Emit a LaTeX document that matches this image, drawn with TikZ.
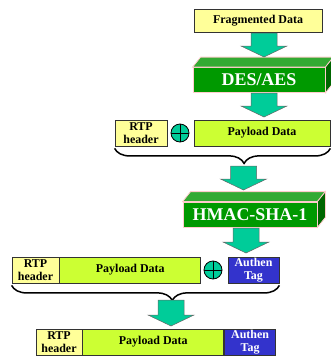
\documentclass[tikz,border=0pt]{standalone}
\usepackage{fontspec}
\setmainfont{Liberation Serif}
\usetikzlibrary{positioning,calc,decorations.pathreplacing}

\definecolor{hdryellow}{HTML}{FFFF99}
\definecolor{payloadlime}{HTML}{CCFF33}
\definecolor{arrowteal}{HTML}{00CC99}
\definecolor{algofront}{HTML}{009900}
\definecolor{algotop}{HTML}{33AA33}
\definecolor{algoside}{HTML}{006600}
\definecolor{tagblue}{HTML}{3333CC}
\definecolor{edgepink}{HTML}{FFCCCC}

\tikzset{
  field/.style={draw=black!80, line width=0.8bp, inner sep=0pt, minimum height=26bp,
    font=\fontsize{12}{13}\selectfont\bfseries, align=center},
  hdr/.style={field, fill=hdryellow},
  payload/.style={field, fill=payloadlime},
  tag/.style={field, fill=tagblue, text=white},
  algo/.style={draw=edgepink, line width=0.8bp, fill=algofront, text=white, inner sep=0pt,
    minimum height=25bp, font=\fontsize{18}{18}\selectfont\bfseries},
  xorsym/.style={circle, draw=black, line width=0.8bp, fill=arrowteal, minimum size=18bp,
    inner sep=0pt, path picture={
      \draw[line width=0.8bp] (path picture bounding box.north) -- (path picture bounding box.south)
        (path picture bounding box.west) -- (path picture bounding box.east);}},
  arrowbody/.style={fill=arrowteal, draw=black!60, line width=0.5bp},
  bracket/.style={decorate, decoration={brace, mirror, amplitude=15bp, aspect=0.6}, line width=1.5bp},
}

% block arrow from #1 (top of shaft) down to #2 (tip)
\newcommand{\blockarrow}[2]{%
  \path[arrowbody] ($(#1)+(-13,0)$) -- ($(#1)+(13,0)$) -- ($(#2)+(13,-11)$) -- ($(#2)+(23,-11)$)
    -- (#2) -- ($(#2)+(-23,-11)$) -- ($(#2)+(-13,-11)$) -- cycle;}

% side and top of a green block
\newcommand{\blockdepth}[1]{%
  \path[fill=algotop, draw=edgepink, line width=0.8bp] (#1.north west) -- ++(8,-10)
    -- ($(#1.north east)+(8,-10)$) -- (#1.north east) -- cycle;
  \path[fill=algoside, draw=edgepink, line width=0.8bp] (#1.north east) -- ++(8,-10)
    -- ($(#1.south east)+(8,-10)$) -- (#1.south east) -- cycle;}

\begin{document}
\begin{tikzpicture}[x=1bp,y=-1bp]
  \useasboundingbox (0,0) rectangle (331,356);

  % Encryption
  \node[hdr, minimum width=128bp, minimum height=23bp] (frag) at (258,20.5) {Fragmented Data};
  \node[algo, minimum width=132bp] (des) at (259,80) {DES/AES};
  \blockdepth{des}

  \coordinate (a1s) at (264,33);
  \coordinate (a1e) at (264,57);
  \blockarrow{a1s}{a1e}
  \coordinate (a2s) at (264,93);
  \coordinate (a2e) at (264,117);
  \blockarrow{a2s}{a2e}

  % Header plus encrypted payload
  \node[hdr, minimum width=52bp] (rtp2) at (141,133) {RTP\\header};
  \node[xorsym] (xor2) at (180,133) {};
  \node[payload, minimum width=136bp] (pay2) at (262,133) {Payload Data};
  \draw[bracket] ($(rtp2.south west)+(0,2)$) -- ($(pay2.south east)+(0,2)$);

  \coordinate (a3s) at (243.5,166);
  \coordinate (a3e) at (243.5,190);
  \blockarrow{a3s}{a3e}

  % Authentication
  \node[algo, minimum width=134bp] (hmac) at (250,214.5) {HMAC-SHA-1};
  \blockdepth{hmac}

  \coordinate (a4s) at (246,228);
  \coordinate (a4e) at (246,253);
  \blockarrow{a4s}{a4e}

  % Packet plus tag
  \node[hdr, minimum width=47bp] (rtp3) at (35.5,270) {RTP\\header};
  \node[payload, minimum width=141bp, right=0bp of rtp3] (pay3) {Payload Data};
  \node[xorsym] (xor3) at (213,270) {};
  \node[tag, minimum width=51bp] (tag3) at (253.5,270) {Authen\\Tag};
  \draw[bracket] ($(rtp3.south west)+(0,2)$) -- ($(tag3.south east)+(0,2)$);

  \coordinate (a5s) at (171,300);
  \coordinate (a5e) at (171,326);
  \blockarrow{a5s}{a5e}

  % Final packet
  \node[hdr, minimum width=46bp] (rtp4) at (59,342) {RTP\\header};
  \node[payload, minimum width=141bp, right=0bp of rtp4] (pay4) {Payload Data};
  \node[tag, minimum width=51bp, right=0bp of pay4] (tag4) {Authen\\Tag};
\end{tikzpicture}
\end{document}
